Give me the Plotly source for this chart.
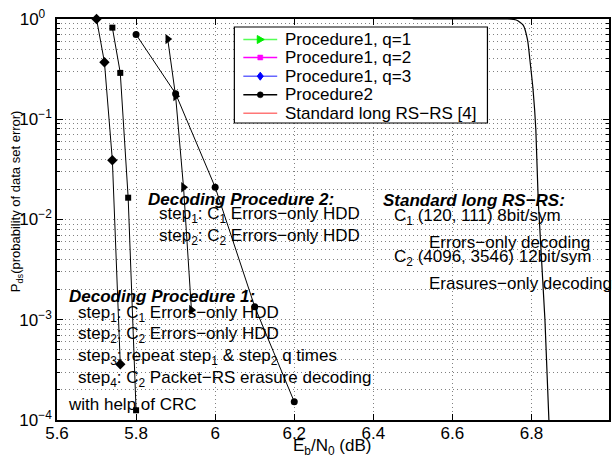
import plotly.graph_objects as go

# ---------------- data ----------------
q1_x = [5.88, 5.90, 5.92, 5.94]
q1_y = [0.63, 0.17, 0.021, 0.00125]

q2_x = [5.74, 5.76, 5.78, 5.80]
q2_y = [0.82, 0.29, 0.0165, 0.000125]

q3_x = [5.70, 5.72, 5.74, 5.76]
q3_y = [1.0, 0.37, 0.039, 0.00036]

p2_x = [5.80, 5.90, 6.00, 6.10, 6.20]
p2_y = [0.70, 0.18, 0.021, 0.00135, 0.000152]

std_x = [6.50, 6.70, 6.74, 6.7615, 6.779, 6.790, 6.796, 6.804, 6.811, 6.817, 6.834, 6.844]
std_y = [1.0, 1.0, 1.0, 0.977, 0.87, 0.62, 0.39, 0.196, 0.078, 0.0156, 0.001, 0.0001]

legend_names = ["Procedure1, q=1", "Procedure1, q=2", "Procedure1, q=3",
                "Procedure2", "Standard long RS\u2212RS [4]"]
legend_colors = ["#55ff55", "#ff00ff", "#6666ff", "#000000", "#ff7777"]
legend_marker_colors = ["#00ee00", "#ff00ff", "#0000ff", "#000000", None]

x_ticks = [5.6, 5.8, 6.0, 6.2, 6.4, 6.6, 6.8]
x_ticktext = ["5.6", "5.8", "6", "6.2", "6.4", "6.6", "6.8"]
y_ticks = [1e-4, 1e-3, 1e-2, 1e-1, 1]
y_ticktext = ["10<sup>\u22124</sup>", "10<sup>\u22123</sup>", "10<sup>\u22122</sup>",
              "10<sup>\u22121</sup>", "10<sup>0\u2007</sup>"]

# ---------------- layout helpers ----------------
W, H = 613, 462
PL, PR, PT, PB = 57, 611, 19, 420
FONT = "Liberation Sans, Arial, sans-serif"
FS = 17


def fx(p):
    return (p - PL) / (PR - PL)


def fy(p):
    return (PB - p) / (PB - PT)


fig = go.Figure()

series = [
    (q1_x, q1_y, "triangle-right", 9),
    (q2_x, q2_y, "square", 6),
    (q3_x, q3_y, "diamond", 8),
    (p2_x, p2_y, "circle", 7),
]
for xs, ys, sym, sz in series:
    fig.add_trace(go.Scatter(
        x=xs, y=ys, mode="lines+markers",
        line=dict(color="black", width=1),
        marker=dict(symbol=sym, size=sz, color="black"),
        showlegend=False, cliponaxis=False))

fig.add_trace(go.Scatter(
    x=std_x, y=std_y, mode="lines",
    line=dict(color="black", width=1.2, shape="spline", smoothing=0.6),
    showlegend=False))

# minor log ticks
minor_vals = []
for d in range(-4, 0):
    for m in range(2, 10):
        minor_vals.append(m * 10 ** d)

grid = dict(showgrid=True, gridcolor="#808080", gridwidth=1, griddash="1px,3px")

fig.update_layout(
    width=W, height=H,
    margin=dict(l=PL, r=W - PR, t=PT, b=H - PB),
    paper_bgcolor="white", plot_bgcolor="white",
    font=dict(family=FONT, size=FS, color="black"),
    showlegend=False,
    xaxis=dict(range=[5.6, 6.996], tickmode="array", tickvals=x_ticks, ticktext=x_ticktext,
               ticks="inside", ticklen=6, tickcolor="black", mirror="allticks",
               showline=True, linecolor="black", linewidth=1.5, zeroline=False,
               ticklabelstandoff=-3,
               tickfont=dict(family=FONT, size=FS), **grid),
    yaxis=dict(type="log", range=[-4, 0], tickmode="array", tickvals=y_ticks, ticktext=y_ticktext,
               ticks="inside", ticklen=6, tickcolor="black", mirror="allticks",
               showline=True, linecolor="black", linewidth=1.5, zeroline=False,
               tickfont=dict(family=FONT, size=FS),
               minor=dict(tickmode="array", tickvals=minor_vals, ticks="inside", ticklen=3,
                          tickcolor="black", **grid),
               **grid),
)

ann = []


def txt(text, xp, yp, xanchor="left", yanchor="middle", angle=0, size=FS):
    ann.append(dict(text=text, x=fx(xp), y=fy(yp), xref="paper", yref="paper",
                    xanchor=xanchor, yanchor=yanchor, showarrow=False, textangle=angle,
                    font=dict(family=FONT, size=size, color="black")))


# axis titles
txt("E<sub>b</sub>/N<sub>0</sub> (dB)", 333, 447, xanchor="center")
txt("P<sub>ds</sub>(probability of data set error)", 16, 201, xanchor="center", angle=-90, size=13)

# Decoding Procedure 2 block
txt("<b><i>Decoding Procedure 2:</i></b>", 146, 199)
txt("step<sub>1</sub>: C<sub>1</sub> Errors\u2212only HDD", 157, 215)
txt("step<sub>2</sub>: C<sub>2</sub> Errors\u2212only HDD", 157, 237)

# Decoding Procedure 1 block
txt("<b><i>Decoding Procedure 1:</i></b>", 67, 296)
txt("step<sub>1</sub>: C<sub>1</sub> Errors\u2212only HDD", 76, 314)
txt("step<sub>2</sub>: C<sub>2</sub> Errors\u2212only HDD", 76, 335)
txt("step<sub>3</sub>: repeat step<sub>1</sub> &amp; step<sub>2</sub> q times", 76, 357)
txt("step<sub>4</sub>: C<sub>2</sub> Packet\u2212RS erasure decoding", 76, 379)
txt("with help of CRC", 66, 404)

# Standard long RS-RS block
txt("<b><i>Standard long RS\u2212RS:</i></b>", 382, 200)
txt("C<sub>1</sub> (120, 111) 8bit/sym", 393, 217)
txt("Errors\u2212only decoding", 428, 242)
txt("C<sub>2</sub> (4096, 3546) 12bit/sym", 393, 258)
txt("Erasures\u2212only decoding", 428, 283)

# manual legend
shapes = []
LX0, LX1, LY0, LY1 = 235, 489, 27, 123
shapes.append(dict(type="rect", xref="paper", yref="paper", x0=fx(LX0), x1=fx(LX1),
                   y0=fy(LY1), y1=fy(LY0), line=dict(color="black", width=1.2),
                   fillcolor="white", layer="above"))
rows = [39.5, 57.5, 76.2, 94.8, 113.2]
for i, name in enumerate(legend_names):
    yc = rows[i]
    shapes.append(dict(type="line", xref="paper", yref="paper", x0=fx(244), x1=fx(278),
                       y0=fy(yc), y1=fy(yc), line=dict(color=legend_colors[i], width=1.6),
                       layer="above"))
    mc = legend_marker_colors[i]
    if mc is not None:
        cx = 261
        if i == 0:
            path = "M {} {} L {} {} L {} {} Z".format(fx(cx - 3), fy(yc - 4), fx(cx + 4), fy(yc),
                                                      fx(cx - 3), fy(yc + 4))
            shapes.append(dict(type="path", xref="paper", yref="paper", path=path,
                               fillcolor=mc, line=dict(color=mc, width=1), layer="above"))
        elif i == 1:
            shapes.append(dict(type="rect", xref="paper", yref="paper", x0=fx(cx - 2.5), x1=fx(cx + 2.5),
                               y0=fy(yc + 2.5), y1=fy(yc - 2.5), fillcolor=mc,
                               line=dict(color=mc, width=0.5), layer="above"))
        elif i == 2:
            path = "M {} {} L {} {} L {} {} L {} {} Z".format(fx(cx), fy(yc - 4), fx(cx + 3), fy(yc),
                                                               fx(cx), fy(yc + 4), fx(cx - 3), fy(yc))
            shapes.append(dict(type="path", xref="paper", yref="paper", path=path,
                               fillcolor=mc, line=dict(color=mc, width=1), layer="above"))
        else:
            shapes.append(dict(type="circle", xref="paper", yref="paper", x0=fx(cx - 3), x1=fx(cx + 3),
                               y0=fy(yc + 3), y1=fy(yc - 3), fillcolor=mc,
                               line=dict(color=mc, width=0.5), layer="above"))
    txt(name, 284, yc)

fig.update_layout(annotations=ann, shapes=shapes)

fig.write_html("out.html")
